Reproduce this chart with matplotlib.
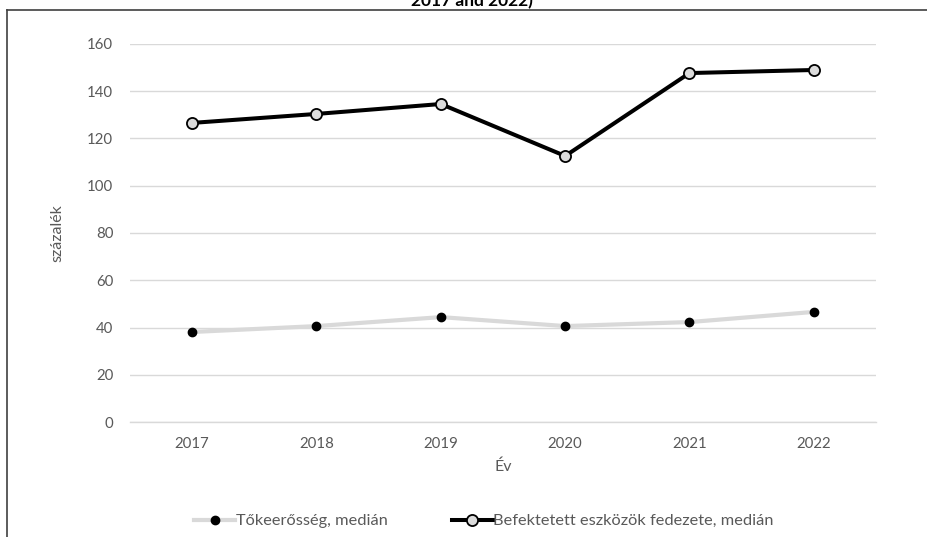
import matplotlib.pyplot as plt
from matplotlib.lines import Line2D

plt.rcParams["font.family"] = ["Lato", "DejaVu Sans"]

years = ["2017", "2018", "2019", "2020", "2021", "2022"]
tokeeross = [38.1, 40.6, 44.4, 40.6, 42.3, 46.6]
fedezet = [126.6, 130.4, 134.6, 112.6, 147.7, 149.0]

TXT = "#595959"
GRID = "#d9d9d9"

fig = plt.figure(figsize=(9.28, 5.37), dpi=100)
W, H = 928, 537
ax = fig.add_axes([130 / W, 1 - 422 / H, (876 - 130) / W, (422 - 44) / H])

x = list(range(len(years)))
ax.plot(x, tokeeross, color=GRID, lw=3, marker="o", ms=6,
        mfc="black", mec="black", label="Tőkeerősség, medián", zorder=3)
ax.plot(x, fedezet, color="black", lw=2.9, marker="o", ms=8,
        mfc="#dcdcdc", mec="black", mew=1.3,
        label="Befektetett eszközök fedezete, medián", zorder=4)

ax.set_xlim(-0.5, len(years) - 0.5)
ax.set_ylim(0, 160)
ax.set_yticks(range(0, 161, 20))
ax.set_xticks(x)
ax.set_xticklabels(years)
ax.grid(axis="y", color=GRID, lw=1)
ax.set_axisbelow(True)
for s in ["top", "right", "left"]:
    ax.spines[s].set_visible(False)
ax.spines["bottom"].set_color(GRID)
ax.spines["bottom"].set_linewidth(1)
ax.tick_params(axis="both", length=0, colors=TXT, labelsize=10.8)
ax.tick_params(axis="y", pad=12)
ax.tick_params(axis="x", pad=11)

ax.set_ylabel("százalék", color=TXT, fontsize=11.5, labelpad=16)
ax.set_xlabel("Év", color=TXT, fontsize=11.5, labelpad=6)

fig.legend(loc="center", bbox_to_anchor=(484 / W, 1 - 521 / H), ncol=2,
           frameon=False, fontsize=11.8, labelcolor=TXT, handlelength=2.5,
           handletextpad=0.05, columnspacing=3.9)

# frame lines of the cropped page
fig.add_artist(Line2D([7 / W, 1], [1 - 10 / H, 1 - 10 / H], color="#404040", lw=1.2))
fig.add_artist(Line2D([7 / W, 7 / W], [0, 1 - 10 / H], color="#404040", lw=1.2))

# cut-off title from the page above
fig.text(472 / W, 1 - 6 / H, "2017 and 2022)", ha="center", va="baseline",
         fontsize=12.5, fontweight="bold", color="black")

fig.savefig("out.png", dpi=100, facecolor="white")
